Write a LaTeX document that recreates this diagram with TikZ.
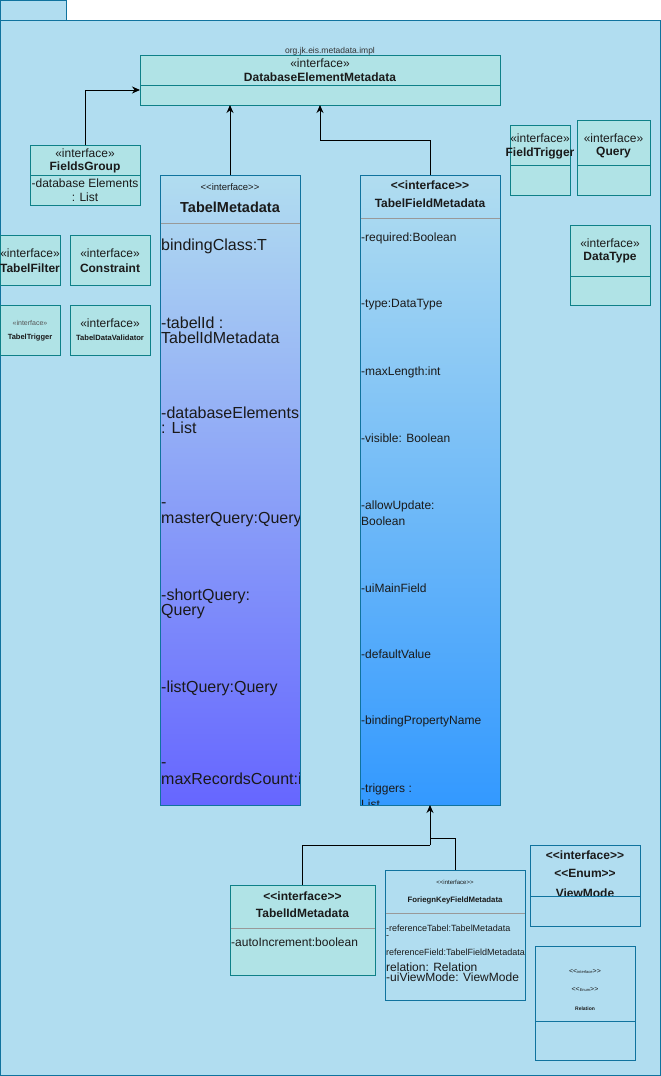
\documentclass[tikz,border=0pt]{standalone}
\usepackage{fontspec}
\setmainfont{Liberation Sans}
\usetikzlibrary{arrows.meta}
\definecolor{pkgfill}{HTML}{B1DDF0}
\definecolor{pkgline}{HTML}{10739E}
\definecolor{clsfill}{HTML}{B0E3E6}
\definecolor{clsline}{HTML}{0E8088}
\definecolor{divgray}{HTML}{999999}
\definecolor{txt}{HTML}{1A1A1A}
\definecolor{tmbottom}{HTML}{6666FF}
\definecolor{tfmbottom}{HTML}{3399FF}
\definecolor{pkglbl}{HTML}{333333}
\definecolor{faint}{HTML}{555555}
% plain double angle brackets (no guillemet ligature)
\newcommand\dopen{<{}<}
\newcommand\dclose{>{}>}

\begin{document}
\begin{tikzpicture}[x=1pt,y=-1pt,
  pkg/.style={draw=pkgline, fill=pkgfill, line width=1pt},
  cls/.style={draw=clsline, fill=clsfill, line width=1pt, anchor=north west, inner sep=0, outer sep=0},
  bluebox/.style={draw=pkgline, fill=pkgfill, line width=1pt, anchor=north west, inner sep=0, outer sep=0},
  gradbox/.style={draw=pkgline, line width=1pt, anchor=north west, inner sep=0, outer sep=0, top color=pkgfill},
  lbl/.style={inner sep=0, text=txt},
  lft/.style={lbl, anchor=west},
  fs/.style={font=\fontsize{#1}{#1}\selectfont},
  fb/.style={font=\bfseries\fontsize{#1}{#1}\selectfont},
  clsdiv/.style={draw=clsline, line width=1pt},
  bluediv/.style={draw=pkgline, line width=1pt},
  graydiv/.style={draw=divgray, line width=1pt},
  conn/.style={draw=black, line width=1pt},
  gen/.style={conn, -{Stealth[length=8pt,width=7pt]}}]

\useasboundingbox (0,0) rectangle (661,1076);

% package frame with its tab
\draw[pkg] (0.5,0.5) rectangle (66,20);
\draw[pkg] (0.5,20) rectangle (660,1075.5);
\node[lbl, text=pkglbl, fs=8.5] (pkgname) at (330,51) {org.jk.eis.metadata.impl};

% DatabaseElementMetadata
\node[cls, minimum width=360pt, minimum height=50pt] (dem) at (140,55) {};
\draw[clsdiv] (140,85) -- (500,85);
\node[lbl, fs=12] (dem-s) at (320,63) {«interface»};
\node[lbl, fb=12] (dem-n) at (320,77.5) {DatabaseElementMetadata};

% FieldsGroup
\node[cls, minimum width=110pt, minimum height=60pt] (fg) at (30,145) {};
\draw[clsdiv] (30,175) -- (140,175);
\node[lbl, fs=12] (fg-s) at (85,153) {«interface»};
\node[lbl, fb=12] (fg-n) at (85,167.5) {FieldsGroup};
\node[lbl, fs=12] (fg-a1) at (85,183) {-database Elements};
\node[lbl, fs=12] (fg-a2) at (85,197.5) {: List};

% small interfaces on the left
\node[cls, minimum width=60pt, minimum height=50pt] (tf) at (0.5,235) {};
\node[lbl, fs=12] (tf-s) at (30,253) {«interface»};
\node[lbl, fb=12] (tf-n) at (30,268) {TabelFilter};
\node[cls, minimum width=80pt, minimum height=50pt] (con) at (70,235) {};
\node[lbl, fs=12] (con-s) at (110,253) {«interface»};
\node[lbl, fb=12] (con-n) at (110,268) {Constraint};
\node[cls, minimum width=60pt, minimum height=50pt] (tt) at (0.5,305) {};
\node[lbl, text=faint, fs=7] (tt-s) at (30,323) {«interface»};
\node[lbl, fb=7.5] (tt-n) at (30,338) {TabelTrigger};
\node[cls, minimum width=80pt, minimum height=50pt] (tdv) at (70,305) {};
\node[lbl, fs=12] (tdv-s) at (110,323) {«interface»};
\node[lbl, fb=7.6] (tdv-n) at (110,338) {TabelDataValidator};

% small interfaces on the right
\node[cls, minimum width=60pt, minimum height=70pt] (ftr) at (510,125) {};
\draw[clsdiv] (510,165) -- (570,165);
\node[lbl, fs=12] (ftr-s) at (540,138) {«interface»};
\node[lbl, fb=12] (ftr-n) at (540,153) {FieldTrigger};
\node[cls, minimum width=73pt, minimum height=75pt] (qry) at (577,120) {};
\draw[clsdiv] (577,165) -- (650,165);
\node[lbl, fs=12] (qry-s) at (613.5,138) {«interface»};
\node[lbl, fb=12] (qry-n) at (613.5,153) {Query};
\node[cls, minimum width=80pt, minimum height=80pt] (dt) at (570,225) {};
\draw[clsdiv] (570,276) -- (650,276);
\node[lbl, fs=12] (dt-s) at (610,243) {«interface»};
\node[lbl, fb=12] (dt-n) at (610,258) {DataType};

% TabelMetadata
\node[gradbox, bottom color=tmbottom, minimum width=140pt, minimum height=630pt] (tm) at (160,175) {};
\draw[graydiv] (160.5,223) -- (299.5,223);
\node[lbl, fs=9.5] (tm-s) at (230,187) {\dopen interface\dclose};
\node[lbl, fb=14.5] (tm-n) at (230,207) {TabelMetadata};
\begin{scope}
  \clip (160.5,175) rectangle (299.5,805);
  \foreach \yy/\tt [count=\i] in {246/bindingClass:T, 322.5/-tabelId :, 337.5/TabelIdMetadata,
      413/-databaseElements, 428/: List, 505/-, 520/masterQuery:Query,
      596.5/-shortQuery:, 611.5/Query, 688/-listQuery:Query, 765/-, 779/maxRecordsCount:int}
    \node[lft, fs=16] (tm-a\i) at (161,\yy) {\tt};
\end{scope}

% TabelFieldMetadata
\node[gradbox, bottom color=tfmbottom, minimum width=140pt, minimum height=630pt] (tfm) at (360,175) {};
\draw[graydiv] (360.5,218) -- (499.5,218);
\node[lbl, fb=12] (tfm-s) at (430,185) {\dopen interface\dclose};
\node[lbl, fb=12] (tfm-n) at (430,203) {TabelFieldMetadata};
\begin{scope}
  \clip (360.5,175) rectangle (499.5,804.5);
  \foreach \yy/\tt [count=\i] in {238/-required:Boolean, 305/-type:DataType, 372/-maxLength:int,
      438/-visible: Boolean, 506/-allowUpdate:, 521/Boolean, 588/-uiMainField,
      654.5/-defaultValue, 721/-bindingPropertyName, 789.5/-triggers :, 804/List}
    \node[lft, fs=12] (tfm-a\i) at (361,\yy) {\tt};
\end{scope}

% TabelIdMetadata
\node[cls, minimum width=145pt, minimum height=90pt] (tid) at (230,885) {};
\draw[graydiv] (230.5,928.5) -- (374.5,928.5);
\node[lbl, fb=12] (tid-s) at (302.5,896) {\dopen interface\dclose};
\node[lbl, fb=12] (tid-n) at (302.5,913) {TabelIdMetadata};
\node[lft, fs=12] (tid-a1) at (231,942) {-autoIncrement:boolean};

% ForiegnKeyFieldMetadata
\node[bluebox, minimum width=140pt, minimum height=130pt] (fk) at (385,870) {};
\draw[graydiv] (385.5,913) -- (524.5,913);
\node[lbl, fs=6] (fk-s) at (455,882) {\dopen interface\dclose};
\node[lbl, fb=7.8] (fk-n) at (455,900) {ForiegnKeyFieldMetadata};
\node[lft, fs=9] (fk-a1) at (386,928) {-referenceTabel:TabelMetadata};
\node[lft, fs=9] (fk-a2) at (386,937) {-};
\node[lft, fs=9] (fk-a3) at (386,952) {referenceField:TabelFieldMetadata};
\node[lft, fs=12] (fk-a4) at (386,967) {relation: Relation};
\node[lft, fs=12] (fk-a5) at (386,977) {-uiViewMode: ViewMode};

% ViewMode
\node[bluebox, minimum width=110pt, minimum height=81pt] (vm) at (530,845) {};
\node[lbl, fb=12] (vm-s1) at (585,855.5) {\dopen interface\dclose};
\node[lbl, fb=12] (vm-s2) at (585,873) {\dopen Enum\dclose};
\node[lbl, fb=12] (vm-n) at (585,893) {ViewMode};
\fill[pkgfill] (530.5,896) rectangle (639.5,925.5);
\draw[bluediv] (530,896) -- (640,896);

% Relation
\node[bluebox, minimum width=100pt, minimum height=114pt] (rel) at (535,946) {};
\draw[bluediv] (535,1021) -- (635,1021);
\node[lbl, anchor=base] (rel-s1) at (585,973) {\fontsize{7}{7}\selectfont\dopen\fontsize{4}{4}\selectfont interface\fontsize{7}{7}\selectfont\dclose};
\node[lbl, anchor=base] (rel-s2) at (585,991.5) {\fontsize{7}{7}\selectfont\dopen\fontsize{4}{4}\selectfont Enum\fontsize{7}{7}\selectfont\dclose};
\node[lbl, fb=5] (rel-n) at (585,1009) {Relation};

% generalisation connectors
\coordinate (demin) at (140,90);
\draw[gen] (fg.north) |- (demin);
\draw[gen] (tm.north) -- (tm.north |- dem.south);
\coordinate (tfmbend) at (320,140);
\draw[conn] (tfm.north) |- (tfmbend);
\draw[gen] (tfmbend) -- (tfmbend |- dem.south);

\coordinate (jn) at (430,845);
\coordinate (jk) at (430,838);
\draw[conn] (tid.north) |- (jn);
\draw[conn] (fk.north) |- (jk);
\draw[gen] (jn) -- (tfm.south);
\end{tikzpicture}
\end{document}
